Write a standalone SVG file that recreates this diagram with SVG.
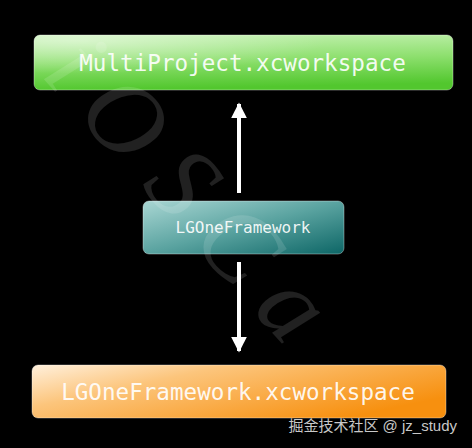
<svg xmlns="http://www.w3.org/2000/svg" width="472" height="448" viewBox="0 0 472 448">
  <defs>
    <linearGradient id="gGreen" x1="0" y1="0" x2="0.15" y2="1">
      <stop offset="0" stop-color="#c6f2b4"/>
      <stop offset="0.5" stop-color="#8fe070"/>
      <stop offset="1" stop-color="#52c72e"/>
    </linearGradient>
    <linearGradient id="gTeal" x1="0" y1="0" x2="1" y2="1">
      <stop offset="0" stop-color="#a9d6d3"/>
      <stop offset="0.5" stop-color="#5aa3a0"/>
      <stop offset="1" stop-color="#0d6666"/>
    </linearGradient>
    <linearGradient id="gOrange" x1="0" y1="0" x2="1" y2="0.6">
      <stop offset="0" stop-color="#fff0dc"/>
      <stop offset="0.35" stop-color="#fcc57c"/>
      <stop offset="1" stop-color="#f7900f"/>
    </linearGradient>
    <radialGradient id="gloss" cx="0.1" cy="0.1" r="0.6">
      <stop offset="0" stop-color="#ffffff" stop-opacity="0.45"/>
      <stop offset="1" stop-color="#ffffff" stop-opacity="0"/>
    </radialGradient>
    <marker id="arrow" viewBox="0 0 10 10" refX="9" refY="5" markerWidth="4" markerHeight="4" orient="auto" markerUnits="strokeWidth">
      <path d="M0,0 L10,5 L0,10 Z" fill="#ffffff"/>
    </marker>
    <style>
      .lbl { font-family: "DejaVu Sans Mono", "Liberation Mono", monospace; fill: #ffffff; fill-opacity: 0.92; text-anchor: middle; }
      .box { stroke: #ffffff; stroke-opacity: 0.35; stroke-width: 1; }
      .conn { stroke: #ffffff; stroke-width: 4; fill: none; }
      .wm { font-family: "Liberation Serif", "DejaVu Serif", serif; font-style: italic; fill: #ffffff; fill-opacity: 0.13; }
    </style>
  </defs>
  <rect width="472" height="448" fill="#000000"/>
  <g id="connectors">
    <line class="conn" x1="239" y1="193" x2="239" y2="104" marker-end="url(#arrow)"/>
    <line class="conn" x1="239" y1="262" x2="239" y2="351" marker-end="url(#arrow)"/>
  </g>
  <g id="node-multiproject">
    <rect class="box" x="34" y="35" width="419" height="55" rx="6" fill="url(#gGreen)"/>
    <rect x="34" y="35" width="419" height="55" rx="6" fill="url(#gloss)"/>
    <text class="lbl" x="242.5" y="71" font-size="22.6">MultiProject.xcworkspace</text>
  </g>
  <g id="node-lgoneframework">
    <rect class="box" x="143" y="201" width="201" height="53" rx="6" fill="url(#gTeal)"/>
    <text class="lbl" x="243" y="233" font-size="16">LGOneFramework</text>
  </g>
  <g id="node-lgoneworkspace">
    <rect class="box" x="32" y="365" width="414" height="53" rx="6" fill="url(#gOrange)"/>
    <text class="lbl" x="238" y="400" font-size="22.6">LGOneFramework.xcworkspace</text>
  </g>
  <g id="watermark">
    <text class="wm" font-size="105" letter-spacing="22" transform="translate(40,75) rotate(48)">iOSCa</text>
  </g>
  <text x="457" y="431" font-size="15" text-anchor="end" fill="#c8c8c8" font-family="'Liberation Sans', 'Noto Sans CJK SC', sans-serif">掘金技术社区 @ jz_study</text>
</svg>
